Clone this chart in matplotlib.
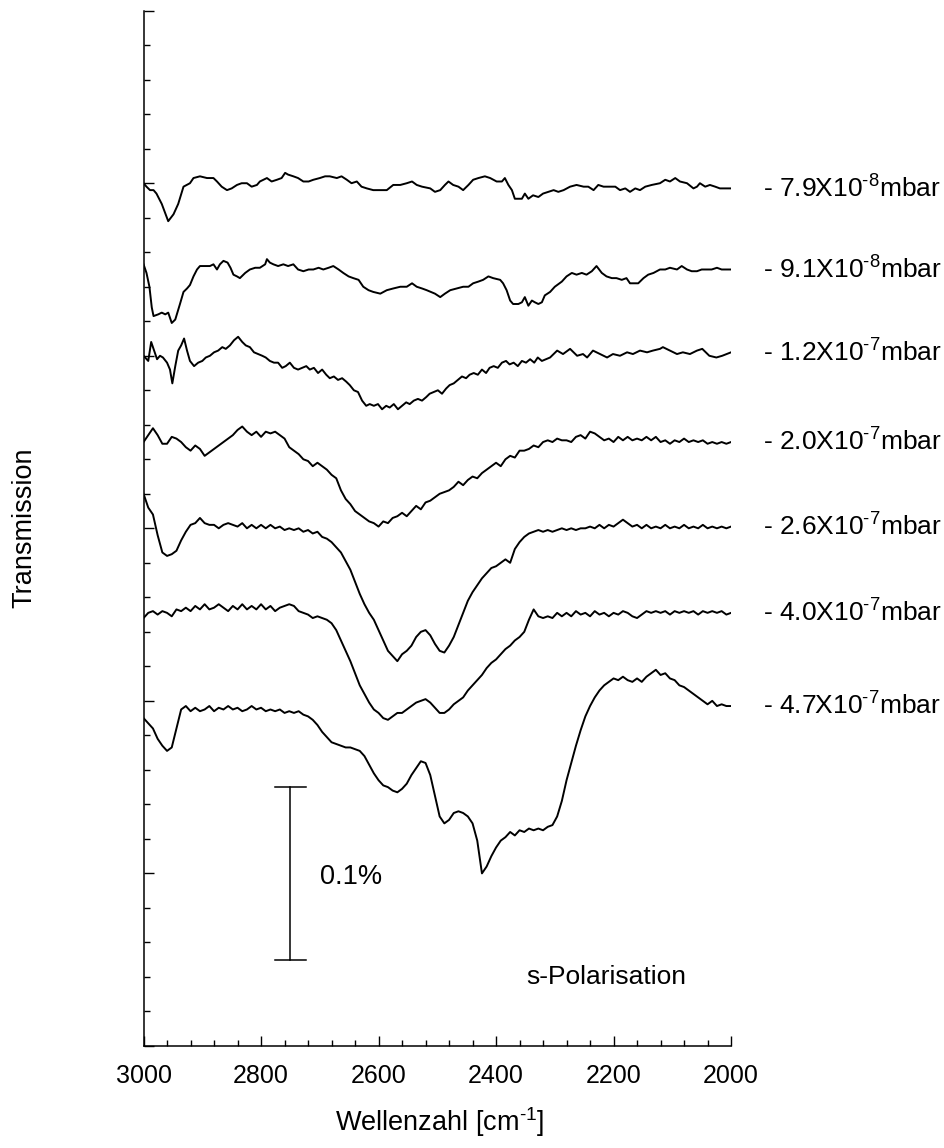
import matplotlib
matplotlib.use("Agg")
import matplotlib.pyplot as plt
from matplotlib.ticker import MultipleLocator, NullFormatter

plt.rcParams['font.family'] = ['Liberation Sans', 'DejaVu Sans']
plt.rcParams['mathtext.fontset'] = 'custom'
plt.rcParams['mathtext.rm'] = 'Liberation Sans'
plt.rcParams['mathtext.it'] = 'Liberation Sans:italic'
plt.rcParams['mathtext.bf'] = 'Liberation Sans:bold'

HY = "\u2010"  # short hyphen used in the superscripts

# ---------------- data (wavenumber in cm^-1, transmission in %, stacked) -------------
labels = ["- 7.9X10$^{" + HY + "8}$mbar", "- 9.1X10$^{" + HY + "8}$mbar",
          "- 1.2X10$^{" + HY + "7}$mbar", "- 2.0X10$^{" + HY + "7}$mbar",
          "- 2.6X10$^{" + HY + "7}$mbar", "- 4.0X10$^{" + HY + "7}$mbar",
          "- 4.7X10$^{" + HY + "7}$mbar"]

wn1 = [3000, 2995, 2989, 2983, 2978, 2969, 2958, 2949, 2941, 2932, 2921, 2915, 2904, 2892,
       2881, 2875, 2867, 2858, 2850, 2841, 2833, 2824, 2816, 2807, 2802, 2796, 2790, 2782,
       2773, 2765, 2759, 2754, 2745, 2737, 2728, 2719, 2711, 2700, 2691, 2683, 2671, 2663,
       2654, 2646, 2637, 2629, 2620, 2609, 2597, 2586, 2575, 2563, 2552, 2543, 2535, 2526,
       2512, 2504, 2495, 2487, 2481, 2473, 2464, 2456, 2447, 2439, 2430, 2419, 2410, 2399,
       2390, 2385, 2379, 2373, 2368, 2362, 2356, 2351, 2345, 2337, 2328, 2320, 2311, 2302,
       2294, 2285, 2274, 2263, 2251, 2243, 2234, 2226, 2217, 2206, 2197, 2189, 2180, 2172,
       2163, 2155, 2146, 2135, 2121, 2112, 2104, 2095, 2087, 2075, 2064, 2058, 2053, 2044,
       2036, 2027, 2019, 2010, 2000]
t1 = [0.500, 0.498, 0.496, 0.496, 0.494, 0.488, 0.478, 0.482, 0.488, 0.498, 0.500, 0.503,
      0.504, 0.503, 0.503, 0.501, 0.498, 0.496, 0.497, 0.499, 0.500, 0.500, 0.498, 0.499,
      0.501, 0.502, 0.503, 0.501, 0.502, 0.503, 0.506, 0.505, 0.504, 0.503, 0.501, 0.501,
      0.502, 0.503, 0.504, 0.504, 0.503, 0.504, 0.502, 0.500, 0.501, 0.498, 0.497, 0.496,
      0.496, 0.496, 0.499, 0.499, 0.500, 0.501, 0.499, 0.498, 0.497, 0.495, 0.496, 0.499,
      0.501, 0.499, 0.498, 0.496, 0.499, 0.502, 0.503, 0.504, 0.503, 0.501, 0.501, 0.503,
      0.499, 0.496, 0.491, 0.491, 0.491, 0.494, 0.491, 0.493, 0.492, 0.494, 0.495, 0.496,
      0.495, 0.496, 0.498, 0.499, 0.498, 0.498, 0.496, 0.499, 0.498, 0.498, 0.498, 0.496,
      0.497, 0.495, 0.497, 0.496, 0.498, 0.499, 0.500, 0.502, 0.501, 0.503, 0.501, 0.500,
      0.497, 0.498, 0.500, 0.498, 0.499, 0.498, 0.497, 0.497, 0.497]

wn2 = [3000, 2995, 2990, 2986, 2983, 2975, 2969, 2963, 2958, 2952, 2946, 2938, 2932, 2926,
       2921, 2915, 2909, 2904, 2895, 2887, 2881, 2875, 2870, 2864, 2857, 2852, 2847, 2841,
       2836, 2827, 2819, 2810, 2802, 2793, 2790, 2785, 2779, 2771, 2762, 2754, 2745, 2737,
       2728, 2719, 2711, 2702, 2694, 2685, 2677, 2668, 2660, 2651, 2643, 2634, 2626, 2617,
       2609, 2597, 2586, 2575, 2563, 2552, 2543, 2535, 2526, 2518, 2504, 2495, 2487, 2478,
       2467, 2456, 2447, 2439, 2430, 2422, 2413, 2405, 2393, 2388, 2382, 2376, 2371, 2362,
       2356, 2351, 2345, 2339, 2334, 2328, 2322, 2317, 2308, 2300, 2288, 2280, 2271, 2263,
       2254, 2246, 2237, 2229, 2220, 2212, 2203, 2195, 2186, 2178, 2172, 2163, 2158, 2149,
       2141, 2132, 2121, 2112, 2104, 2092, 2084, 2075, 2067, 2058, 2050, 2041, 2033, 2024,
       2016, 2007, 2000]
t2 = [0.453, 0.448, 0.440, 0.428, 0.423, 0.424, 0.425, 0.424, 0.425, 0.419, 0.421, 0.430,
      0.437, 0.439, 0.441, 0.446, 0.450, 0.452, 0.452, 0.452, 0.453, 0.450, 0.453, 0.455,
      0.454, 0.451, 0.447, 0.446, 0.445, 0.448, 0.450, 0.451, 0.451, 0.453, 0.456, 0.454,
      0.453, 0.452, 0.453, 0.452, 0.453, 0.450, 0.449, 0.450, 0.450, 0.451, 0.450, 0.451,
      0.452, 0.450, 0.448, 0.446, 0.445, 0.444, 0.440, 0.438, 0.437, 0.436, 0.438, 0.439,
      0.440, 0.440, 0.442, 0.440, 0.439, 0.438, 0.436, 0.434, 0.436, 0.438, 0.439, 0.440,
      0.440, 0.442, 0.443, 0.444, 0.446, 0.445, 0.444, 0.442, 0.438, 0.432, 0.430, 0.430,
      0.431, 0.434, 0.429, 0.432, 0.431, 0.430, 0.431, 0.435, 0.437, 0.440, 0.443, 0.446,
      0.448, 0.447, 0.448, 0.447, 0.449, 0.452, 0.448, 0.446, 0.445, 0.445, 0.444, 0.445,
      0.442, 0.442, 0.442, 0.445, 0.447, 0.448, 0.450, 0.450, 0.451, 0.450, 0.452, 0.450,
      0.449, 0.449, 0.450, 0.450, 0.450, 0.451, 0.450, 0.450, 0.450]

wn3 = [3000, 2992, 2987, 2982, 2977, 2972, 2967, 2960, 2955, 2951, 2946, 2941, 2936, 2931,
       2926, 2921, 2914, 2907, 2900, 2894, 2887, 2880, 2873, 2866, 2860, 2853, 2846, 2839,
       2832, 2826, 2819, 2812, 2805, 2798, 2792, 2785, 2778, 2771, 2764, 2758, 2751, 2744,
       2737, 2730, 2723, 2717, 2710, 2703, 2696, 2689, 2683, 2676, 2669, 2662, 2655, 2649,
       2642, 2635, 2628, 2621, 2615, 2608, 2601, 2594, 2587, 2581, 2574, 2567, 2560, 2553,
       2547, 2540, 2533, 2526, 2519, 2513, 2506, 2499, 2492, 2485, 2479, 2472, 2465, 2458,
       2451, 2445, 2438, 2431, 2424, 2417, 2411, 2404, 2397, 2390, 2383, 2377, 2370, 2363,
       2356, 2349, 2342, 2335, 2329, 2322, 2315, 2308, 2296, 2286, 2274, 2262, 2252, 2245,
       2235, 2223, 2211, 2201, 2189, 2177, 2167, 2155, 2143, 2133, 2121, 2116, 2104, 2092,
       2082, 2070, 2058, 2049, 2037, 2025, 2015, 2000]
t3 = [0.400, 0.397, 0.408, 0.403, 0.398, 0.400, 0.399, 0.396, 0.392, 0.384, 0.394, 0.403,
      0.406, 0.410, 0.403, 0.397, 0.394, 0.396, 0.397, 0.399, 0.400, 0.402, 0.403, 0.405,
      0.404, 0.406, 0.409, 0.411, 0.408, 0.406, 0.405, 0.402, 0.401, 0.400, 0.399, 0.397,
      0.396, 0.396, 0.393, 0.394, 0.396, 0.393, 0.392, 0.393, 0.394, 0.392, 0.393, 0.390,
      0.392, 0.389, 0.387, 0.388, 0.386, 0.387, 0.385, 0.383, 0.380, 0.379, 0.374, 0.371,
      0.372, 0.371, 0.372, 0.369, 0.371, 0.370, 0.372, 0.369, 0.371, 0.373, 0.372, 0.374,
      0.375, 0.374, 0.376, 0.378, 0.379, 0.380, 0.378, 0.381, 0.383, 0.384, 0.386, 0.388,
      0.387, 0.389, 0.390, 0.389, 0.392, 0.390, 0.393, 0.394, 0.393, 0.396, 0.397, 0.395,
      0.396, 0.394, 0.397, 0.396, 0.398, 0.396, 0.399, 0.397, 0.398, 0.399, 0.403, 0.401,
      0.404, 0.400, 0.401, 0.399, 0.403, 0.401, 0.399, 0.401, 0.400, 0.402, 0.401, 0.403,
      0.402, 0.403, 0.404, 0.405, 0.403, 0.401, 0.402, 0.401, 0.403, 0.404, 0.400, 0.399,
      0.400, 0.402]

# curves 4-7 sampled every 8 cm^-1 from 3000 to 2000
wn_grid = list(range(3000, 1999, -8))
t4 = [0.350, 0.354, 0.358, 0.354, 0.349, 0.349, 0.353, 0.352, 0.350, 0.347, 0.345, 0.348,
      0.346, 0.342, 0.344, 0.346, 0.348, 0.350, 0.352, 0.354, 0.357, 0.359, 0.356, 0.354,
      0.356, 0.353, 0.356, 0.355, 0.356, 0.354, 0.352, 0.347, 0.345, 0.343, 0.340, 0.339,
      0.336, 0.338, 0.336, 0.334, 0.331, 0.329, 0.322, 0.317, 0.314, 0.310, 0.308, 0.306,
      0.304, 0.303, 0.301, 0.304, 0.303, 0.306, 0.307, 0.309, 0.307, 0.310, 0.313, 0.311,
      0.315, 0.316, 0.318, 0.320, 0.321, 0.322, 0.324, 0.327, 0.325, 0.328, 0.330, 0.329,
      0.332, 0.334, 0.336, 0.338, 0.336, 0.340, 0.342, 0.341, 0.345, 0.345, 0.346, 0.348,
      0.347, 0.350, 0.351, 0.350, 0.352, 0.351, 0.351, 0.350, 0.353, 0.354, 0.352, 0.356,
      0.355, 0.353, 0.351, 0.352, 0.350, 0.353, 0.351, 0.353, 0.351, 0.352, 0.351, 0.353,
      0.351, 0.353, 0.350, 0.351, 0.349, 0.351, 0.350, 0.352, 0.350, 0.351, 0.350, 0.351,
      0.349, 0.350, 0.349, 0.350, 0.349, 0.350]
t5 = [0.320, 0.312, 0.308, 0.296, 0.286, 0.284, 0.285, 0.287, 0.293, 0.298, 0.302, 0.303,
      0.306, 0.303, 0.302, 0.302, 0.300, 0.302, 0.303, 0.302, 0.301, 0.303, 0.300, 0.302,
      0.300, 0.302, 0.300, 0.302, 0.300, 0.301, 0.299, 0.300, 0.299, 0.300, 0.298, 0.299,
      0.297, 0.298, 0.295, 0.294, 0.292, 0.289, 0.286, 0.281, 0.276, 0.269, 0.262, 0.256,
      0.251, 0.247, 0.241, 0.235, 0.229, 0.226, 0.223, 0.227, 0.229, 0.232, 0.237, 0.240,
      0.241, 0.238, 0.233, 0.229, 0.228, 0.232, 0.237, 0.244, 0.251, 0.258, 0.263, 0.267,
      0.271, 0.274, 0.277, 0.278, 0.280, 0.282, 0.280, 0.288, 0.292, 0.295, 0.297, 0.298,
      0.299, 0.298, 0.299, 0.298, 0.299, 0.300, 0.299, 0.300, 0.299, 0.300, 0.300, 0.301,
      0.300, 0.302, 0.300, 0.302, 0.301, 0.303, 0.305, 0.303, 0.301, 0.302, 0.300, 0.302,
      0.300, 0.301, 0.300, 0.302, 0.300, 0.301, 0.300, 0.302, 0.300, 0.301, 0.300, 0.302,
      0.300, 0.301, 0.300, 0.301, 0.300, 0.301]
t6 = [0.248, 0.251, 0.252, 0.250, 0.252, 0.251, 0.249, 0.253, 0.252, 0.254, 0.252, 0.255,
      0.253, 0.256, 0.253, 0.254, 0.256, 0.254, 0.252, 0.255, 0.253, 0.256, 0.253, 0.255,
      0.253, 0.256, 0.253, 0.255, 0.252, 0.254, 0.255, 0.256, 0.255, 0.252, 0.251, 0.250,
      0.248, 0.249, 0.248, 0.247, 0.245, 0.241, 0.235, 0.229, 0.223, 0.216, 0.209, 0.204,
      0.199, 0.195, 0.193, 0.190, 0.189, 0.191, 0.193, 0.193, 0.195, 0.197, 0.199, 0.200,
      0.201, 0.199, 0.196, 0.193, 0.193, 0.195, 0.198, 0.200, 0.202, 0.206, 0.209, 0.212,
      0.215, 0.219, 0.222, 0.224, 0.227, 0.230, 0.232, 0.235, 0.237, 0.240, 0.247, 0.253,
      0.249, 0.248, 0.249, 0.248, 0.251, 0.249, 0.251, 0.249, 0.252, 0.250, 0.251, 0.249,
      0.252, 0.250, 0.251, 0.249, 0.251, 0.250, 0.252, 0.251, 0.249, 0.248, 0.250, 0.252,
      0.251, 0.252, 0.251, 0.252, 0.250, 0.252, 0.251, 0.252, 0.251, 0.252, 0.250, 0.252,
      0.251, 0.252, 0.251, 0.252, 0.250, 0.251]
t7 = [0.190, 0.187, 0.184, 0.178, 0.174, 0.171, 0.173, 0.184, 0.195, 0.197, 0.194, 0.196,
      0.194, 0.195, 0.197, 0.194, 0.196, 0.195, 0.197, 0.195, 0.196, 0.194, 0.195, 0.197,
      0.195, 0.196, 0.194, 0.195, 0.194, 0.195, 0.193, 0.194, 0.193, 0.194, 0.192, 0.191,
      0.189, 0.186, 0.182, 0.179, 0.176, 0.175, 0.174, 0.173, 0.173, 0.172, 0.171, 0.168,
      0.163, 0.158, 0.154, 0.151, 0.150, 0.148, 0.147, 0.149, 0.152, 0.157, 0.161, 0.165,
      0.164, 0.157, 0.145, 0.133, 0.129, 0.131, 0.135, 0.136, 0.135, 0.133, 0.129, 0.119,
      0.100, 0.104, 0.110, 0.115, 0.119, 0.121, 0.124, 0.122, 0.125, 0.124, 0.126, 0.125,
      0.126, 0.125, 0.127, 0.128, 0.133, 0.142, 0.154, 0.164, 0.174, 0.183, 0.191, 0.197,
      0.202, 0.206, 0.209, 0.211, 0.213, 0.212, 0.214, 0.212, 0.211, 0.213, 0.211, 0.214,
      0.216, 0.218, 0.215, 0.216, 0.213, 0.212, 0.209, 0.208, 0.206, 0.204, 0.202, 0.200,
      0.198, 0.200, 0.197, 0.198, 0.197, 0.197]

wavenumbers = [wn1, wn2, wn3, wn_grid, wn_grid, wn_grid, wn_grid]
spectra = [t1, t2, t3, t4, t5, t6, t7]

scale_bar_pos = 2750      # cm^-1
scale_bar_range = (0.05, 0.15)  # % (0.1 %)
scale_bar_label = "0.1%"
pol_label = "s-Polarisation"

# ---------------- figure ----------------
fig = plt.figure(figsize=(9.45, 11.48), dpi=100)
ax = fig.add_axes([0.1519, 0.0889, 0.6217, 0.9018])

for wn, t, lab in zip(wavenumbers, spectra, labels):
    ax.plot(wn, t, color='black', lw=1.4, solid_joinstyle='round')
    ax.annotate(lab, xy=(wn[-1], t[-1]), xytext=(23, -6.5), textcoords='offset points',
                ha='left', va='baseline', fontsize=19, annotation_clip=False)

# scale bar
ax.plot([scale_bar_pos, scale_bar_pos], scale_bar_range, color='black', lw=1.1)
for yb in scale_bar_range:
    ax.plot([scale_bar_pos + 26, scale_bar_pos - 26], [yb, yb], color='black', lw=1.1)
ax.text(2700, 0.094, scale_bar_label, fontsize=19.5, ha='left', va='baseline')
ax.text(2349, 0.036, pol_label, fontsize=19, ha='left', va='baseline')

ax.set_xlim(3000, 2000)
ax.set_ylim(0, 0.6)
ax.xaxis.set_major_locator(MultipleLocator(200))
ax.xaxis.set_minor_locator(MultipleLocator(40))
ax.yaxis.set_major_locator(MultipleLocator(0.1))
ax.yaxis.set_minor_locator(MultipleLocator(0.02))
ax.yaxis.set_major_formatter(NullFormatter())
ax.tick_params(axis='both', which='both', direction='in', width=1.0, color='black')
ax.tick_params(axis='both', which='major', length=7.2)
ax.tick_params(axis='both', which='minor', length=4)
ax.tick_params(axis='x', which='major', labelsize=18, pad=13)
for s in ['top', 'right']:
    ax.spines[s].set_visible(False)
for s in ['left', 'bottom']:
    ax.spines[s].set_linewidth(1.1)

fig.text(440 / 945, 1 - 1122 / 1148, "Wellenzahl [cm$^{" + HY + "1}$]", fontsize=19.5,
         ha='center', va='center')
fig.text(24 / 945, 1 - 528 / 1148, "Transmission", fontsize=19.5, rotation=90,
         ha='center', va='center')

fig.savefig("out.png", dpi=100)
